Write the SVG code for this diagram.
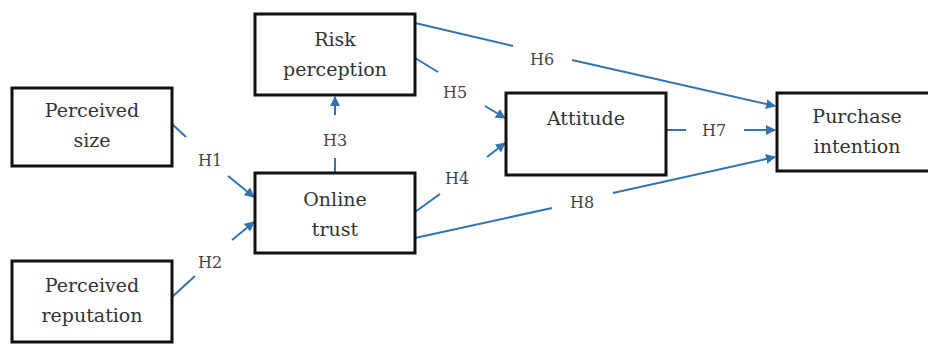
<svg xmlns="http://www.w3.org/2000/svg" width="928" height="347" viewBox="0 0 928 347">
<defs>
<marker id="ah" viewBox="0 0 10 10" refX="9" refY="5" markerWidth="5" markerHeight="5" orient="auto" markerUnits="strokeWidth">
<path d="M0,0 L10,5 L0,10 z" fill="#2f74b5"/>
</marker>
<style>
.box{fill:#fff;stroke:#111;stroke-width:3}
.nt{font-family:"DejaVu Serif",serif;font-size:19px;fill:#333;text-anchor:middle}
.lb{font-family:"DejaVu Serif",serif;font-size:16px;fill:#444;text-anchor:middle}
.c{stroke:#2f74b5;stroke-width:2;fill:none}
.a{marker-end:url(#ah)}
</style>
</defs>
<rect width="928" height="347" fill="#fff"/>
<g id="connectors">
<line class="c" x1="172" y1="124" x2="186" y2="137"/>
<line class="c a" x1="228" y1="176" x2="254" y2="197"/>
<text class="lb" x="210" y="166">H1</text>
<line class="c" x1="172" y1="297" x2="195" y2="276"/>
<line class="c a" x1="232" y1="240" x2="254" y2="222"/>
<text class="lb" x="210" y="268">H2</text>
<line class="c" x1="335" y1="173" x2="335" y2="158"/>
<line class="c a" x1="335" y1="115" x2="335" y2="97"/>
<text class="lb" x="335" y="146">H3</text>
<line class="c" x1="415" y1="212" x2="440" y2="194"/>
<line class="c a" x1="487" y1="157" x2="505" y2="143"/>
<text class="lb" x="457" y="184">H4</text>
<line class="c" x1="415" y1="58" x2="438" y2="72"/>
<line class="c a" x1="485" y1="106" x2="505" y2="118"/>
<text class="lb" x="455" y="98">H5</text>
<line class="c" x1="415" y1="23" x2="513" y2="46"/>
<line class="c a" x1="572" y1="60" x2="775" y2="106"/>
<text class="lb" x="542" y="65">H6</text>
<line class="c" x1="666" y1="130" x2="686" y2="130"/>
<line class="c a" x1="744" y1="130" x2="775" y2="130"/>
<text class="lb" x="714" y="136">H7</text>
<line class="c" x1="415" y1="238" x2="552" y2="208"/>
<line class="c a" x1="613" y1="193" x2="775" y2="157"/>
<text class="lb" x="582" y="208">H8</text>
</g>
<g id="risk">
<rect class="box" x="255" y="14" width="160" height="81"/>
<text class="nt" x="335" y="46">Risk</text>
<text class="nt" x="335" y="76">perception</text>
</g>
<g id="size">
<rect class="box" x="12" y="88" width="160" height="78"/>
<text class="nt" x="92" y="117">Perceived</text>
<text class="nt" x="92" y="147">size</text>
</g>
<g id="trust">
<rect class="box" x="255" y="173" width="160" height="80"/>
<text class="nt" x="335" y="206">Online</text>
<text class="nt" x="335" y="236">trust</text>
</g>
<g id="reputation">
<rect class="box" x="12" y="261" width="160" height="81"/>
<text class="nt" x="92" y="292">Perceived</text>
<text class="nt" x="92" y="322">reputation</text>
</g>
<g id="attitude">
<rect class="box" x="506" y="93" width="160" height="82"/>
<text class="nt" x="586" y="125">Attitude</text>
</g>
<g id="purchase">
<rect class="box" x="777" y="93" width="170" height="78"/>
<text class="nt" x="857" y="123">Purchase</text>
<text class="nt" x="857" y="153">intention</text>
</g>
</svg>
